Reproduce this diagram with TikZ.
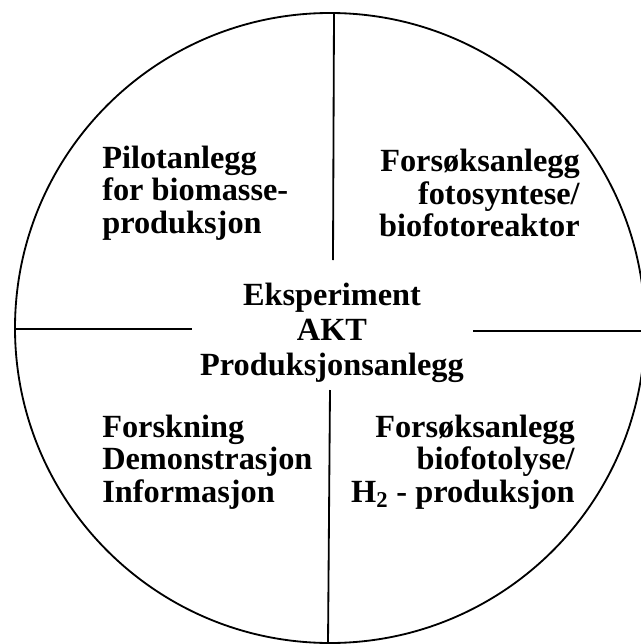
\documentclass[tikz,border=0pt]{standalone}
\usepackage{fontspec}
\setmainfont{Liberation Serif}

\begin{document}
\begin{tikzpicture}[x=0.025cm,y=-0.025cm,
    label/.style={font=\bfseries\fontsize{23}{23}\selectfont, inner sep=0pt},
    rim/.style={line width=1.3pt}]
    \useasboundingbox (0,0) rectangle (640,644);
    \node[rim, draw, circle, minimum size=630*0.025cm, inner sep=0pt] (disc) at (330,328) {}; % outer circle
    \node[label, align=center, font=\bfseries\fontsize{23}{25}\selectfont] (centre) at (332,333) {Eksperiment\\AKT\\Produksjonsanlegg}; % middle
    \node[label, align=left, anchor=west] (pilot) at (102,193) {Pilotanlegg\\for biomasse-\\produksjon}; % top left
    \node[label, align=right, anchor=east] (foto) at (580,193) {Forsøksanlegg\\fotosyntese/\\biofotoreaktor}; % top right
    \node[label, align=left, anchor=west] (info) at (102,462) {Forskning\\Demonstrasjon\\Informasjon}; % bottom left
    \node[label, align=right, anchor=east] (lyse) at (575,462) {Forsøksanlegg\\biofotolyse/\\H\textsubscript{2} - produksjon}; % bottom right
    \coordinate (top) at (334,13);
    \coordinate (topend) at (333,260);
    \coordinate (bottom) at (328,644);
    \coordinate (bottomend) at (330,390);
    \coordinate (left) at (15,329);
    \coordinate (leftend) at (192,329);
    \coordinate (right) at (645,331);
    \coordinate (rightend) at (473,331);
    \draw[rim] (top) -- (topend); % upper divider
    \draw[rim] (bottomend) -- (bottom); % lower divider
    \draw[rim] (left) -- (leftend); % left divider
    \draw[rim] (rightend) -- (right); % right divider
  \end{tikzpicture}
\end{document}
